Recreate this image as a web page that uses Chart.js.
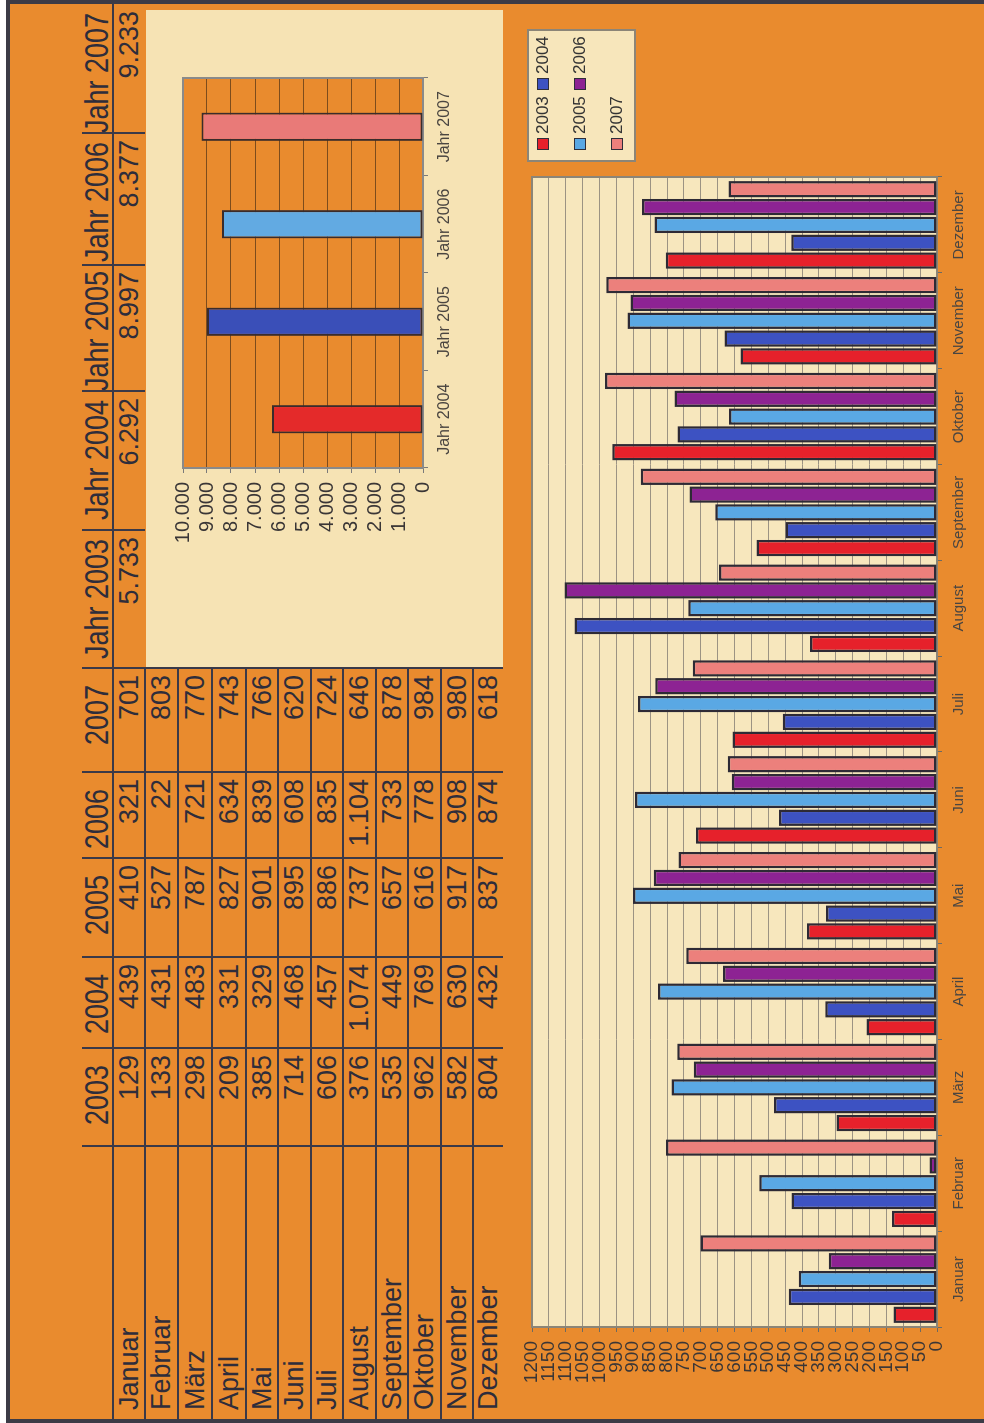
<!DOCTYPE html>
<html>
<head>
<meta charset="utf-8">
<script src="https://cdn.jsdelivr.net/npm/chart.js@4.4.0/dist/chart.umd.min.js"></script>
<style>
html, body { margin:0; padding:0; background:#fff; overflow:hidden; }
body { width:984px; height:1423px; position:relative; font-family:"Liberation Sans", Arial, sans-serif; }
/* the sheet is laid out in landscape and turned a quarter to the left */
#page { position:absolute; left:0; top:0; width:1423px; height:984px; transform-origin:0 0;
        transform:translate(0px,1423px) rotate(-90deg); background:#fff; overflow:hidden; }
#frame { position:absolute; left:0; top:6px; width:1423px; height:978px; box-sizing:border-box;
         background:#e98b2e; border-left:4px solid #3c3b46; border-right:4px solid #3c3b46; border-top:4px solid #3c3b46; }
.cell { position:absolute; white-space:nowrap; font-size:27px; color:#2e2d3b; box-sizing:border-box; }
.cell.r { text-align:right; padding-right:7px; }
.cell.l { text-align:left; padding-left:10px; }
.cell.hdr { padding-right:17px; }
.cell.hdr span { display:inline-block; transform:scaleY(1.2); }
.cell.jahr { padding-right:9px; }
.ln { position:absolute; background:#3a3948; }
#panel { position:absolute; left:756px; top:146px; width:657px; height:357px; background:#f6e3b4; }
#inset { position:absolute; left:755px; top:145px; }
#main { position:absolute; left:0px; top:505px; }
#legend { position:absolute; left:1261px; top:527px; width:133px; height:109px; box-sizing:border-box;
          background:#f7e6bb; border:2px solid #8c8577; }
.lg { position:absolute; font-size:17px; color:#333; line-height:20px; white-space:nowrap; }
.lg i { position:absolute; left:0; top:4px; width:10px; height:10px; border:1.5px solid #2f2e3a; }
.lg b { font-weight:normal; padding-left:16px; }
</style>
</head>
<body>
<div id="page">
  <div id="frame"></div>
  <div id="panel"></div>
  <canvas id="inset" width="658" height="358"></canvas>
  <canvas id="main" width="1262" height="479"></canvas>
  <div id="legend"></div>
</div>
<script>
const months = ['Januar', 'Februar', 'März', 'April', 'Mai', 'Juni', 'Juli', 'August', 'September', 'Oktober', 'November', 'Dezember'];
const years = ['2003', '2004', '2005', '2006', '2007'];

const v2003 = [129, 133, 298, 209, 385, 714, 606, 376, 535, 962, 582, 804];
const v2004 = [439, 431, 483, 331, 329, 468, 457, 1074, 449, 769, 630, 432];
const v2005 = [410, 527, 787, 827, 901, 895, 886, 737, 657, 616, 917, 837];
const v2006 = [321, 22, 721, 634, 839, 608, 835, 1104, 733, 778, 908, 874];
const v2007 = [701, 803, 770, 743, 766, 620, 724, 646, 878, 984, 980, 618];
const series = [v2003, v2004, v2005, v2006, v2007];

const jahrLabels = ['Jahr 2003', 'Jahr 2004', 'Jahr 2005', 'Jahr 2006', 'Jahr 2007'];
const jahrTotals = [5733, 6292, 8997, 8377, 9233];

const insetLabels = ['Jahr 2004', 'Jahr 2005', 'Jahr 2006', 'Jahr 2007'];
const insetValues = [6292, 8997, 8377, 9233];

const mainMax = 1200, mainStep = 50;
const insetMax = 10000, insetStep = 1000;

const seriesColors = ['#e6212b', '#3d52c2', '#5aa8e4', '#8d2393', '#ec807c'];
const insetColors = ['#e42a2a', '#3a4fb8', '#62aae2', '#e97a78'];

const FONT = '"Liberation Sans", Arial, sans-serif';
Chart.defaults.font.family = FONT;

// 1.104 style numbers
function fmt(n) {
    if (n < 1000) return String(n);
    return Math.floor(n / 1000) + '.' + String(n % 1000).padStart(3, '0');
}

const page = document.getElementById('page');

function cell(x, y, w, h, cls, text) {
    const d = document.createElement('div');
    d.className = 'cell ' + cls;
    d.style.cssText = `left:${x}px;top:${y}px;width:${w}px;height:${h}px;line-height:${h}px`;
    d.innerHTML = `<span>${text}</span>`;
    page.appendChild(d);
}
function line(x, y, w, h) {
    const d = document.createElement('div');
    d.className = 'ln';
    d.style.cssText = `left:${x}px;top:${y}px;width:${w}px;height:${h}px`;
    page.appendChild(d);
}

// table layout
const colEdges = [3, 277, 375, 466, 565, 651, 755];
const jahrEdges = [755, 893, 1032, 1158, 1290, 1419];
const rowEdges = [113, 145, 178, 212, 246, 278, 311, 343, 376, 408, 441, 473, 503];
const headTop = 82;

years.forEach((y, i) => {
    cell(colEdges[i + 1], headTop, colEdges[i + 2] - colEdges[i + 1], 31, 'r hdr', y);
});
jahrLabels.forEach((j, i) => {
    cell(jahrEdges[i], headTop, jahrEdges[i + 1] - jahrEdges[i], 31, 'r hdr jahr', j);
    cell(jahrEdges[i], rowEdges[0], jahrEdges[i + 1] - jahrEdges[i], rowEdges[1] - rowEdges[0], 'r', fmt(jahrTotals[i]));
});
months.forEach((m, r) => {
    const top = rowEdges[r], h = rowEdges[r + 1] - rowEdges[r];
    cell(colEdges[0], top, colEdges[1] - colEdges[0], h, 'l', m);
    series.forEach((s, i) => {
        cell(colEdges[i + 1], top, colEdges[i + 2] - colEdges[i + 1], h, 'r', fmt(s[r]));
    });
});

line(3, rowEdges[0] - 1, 1416, 2);
for (let r = 1; r < rowEdges.length - 1; r++) line(3, rowEdges[r] - 1, 752, 2);
colEdges.slice(1).forEach(x => line(x - 1, headTop, 2, 503 - headTop));
jahrEdges.slice(1, -1).forEach(x => line(x - 1, headTop, 2, rowEdges[1] - headTop));

// legend
const legend = document.getElementById('legend');
years.forEach((y, i) => {
    const d = document.createElement('div');
    d.className = 'lg';
    d.style.left = (10 + (i % 2) * 60) + 'px';
    d.style.top = (4 + Math.floor(i / 2) * 37) + 'px';
    d.innerHTML = `<i style="background:${seriesColors[i]}"></i><b>${y}</b>`;
    legend.appendChild(d);
});

function plotBox(fill, stroke) {
    return {
        id: 'plotBox',
        beforeDraw(chart) {
            const {ctx, chartArea: a} = chart;
            ctx.save();
            ctx.fillStyle = fill;
            ctx.fillRect(a.left, a.top, a.width, a.height);
            ctx.restore();
        },
        beforeDatasetsDraw(chart) {
            const {ctx, chartArea: a} = chart;
            ctx.save();
            ctx.strokeStyle = stroke;
            ctx.lineWidth = 2;
            ctx.strokeRect(a.left, a.top, a.width, a.height);
            ctx.restore();
        }
    };
}

new Chart(document.getElementById('main'), {
    type: 'bar',
    data: {
        labels: months,
        datasets: years.map((y, i) => ({
            label: y,
            data: series[i],
            backgroundColor: seriesColors[i],
            borderColor: '#2e2a35',
            borderWidth: 2.5,
            borderSkipped: false,
            categoryPercentage: 0.93,
            barPercentage: 0.92
        }))
    },
    options: {
        responsive: false,
        animation: false,
        devicePixelRatio: 1,
        layout: {padding: {left: 0, right: 16, top: 27, bottom: 7}},
        plugins: {legend: {display: false}, tooltip: {enabled: false}},
        scales: {
            x: {
                grid: {drawOnChartArea: false, drawTicks: true, tickLength: 5, color: '#6f6a60'},
                border: {display: false},
                ticks: {font: {size: 15}, color: '#4a4540', padding: 8, maxRotation: 0, autoSkip: false},
                afterFit: s => { s.height = 40; }
            },
            y: {
                min: 0, max: mainMax,
                grid: {color: '#9c9383', lineWidth: 1, tickLength: 5, tickColor: '#6f6a60'},
                border: {display: false},
                ticks: {stepSize: mainStep, autoSkip: false, maxTicksLimit: 40, font: {size: 19}, color: '#3a3636', padding: 9,
                        callback: v => String(v)},
                afterFit: s => { s.width = 96; }
            }
        }
    },
    plugins: [plotBox('#f7e7bd', '#8c8577')]
});

new Chart(document.getElementById('inset'), {
    type: 'bar',
    data: {
        labels: insetLabels,
        datasets: [{
            data: insetValues,
            backgroundColor: insetColors,
            borderColor: '#3a2c2c',
            borderWidth: 2,
            borderSkipped: false,
            categoryPercentage: 1,
            barPercentage: 0.29
        }]
    },
    options: {
        responsive: false,
        animation: false,
        devicePixelRatio: 1,
        layout: {padding: {left: 0, right: 68, top: 38, bottom: 40}},
        plugins: {legend: {display: false}, tooltip: {enabled: false}},
        scales: {
            x: {
                grid: {drawOnChartArea: false, drawTicks: true, tickLength: 5, color: '#7a7a7a'},
                border: {display: false},
                ticks: {font: {size: 16}, color: '#4a4540', padding: 7, maxRotation: 0, autoSkip: false},
                afterFit: s => { s.height = 40; }
            },
            y: {
                min: 0, max: insetMax,
                grid: {color: '#7d4c1c', lineWidth: 1, tickLength: 5, tickColor: '#7a7a7a'},
                border: {display: false},
                ticks: {stepSize: insetStep, autoSkip: false, font: {size: 20}, color: '#3a3636', padding: 9,
                        callback: v => fmt(v)},
                afterFit: s => { s.width = 200; }
            }
        }
    },
    plugins: [plotBox('#e98b2e', '#8a8a8a')]
});
</script>
</body>
</html>
